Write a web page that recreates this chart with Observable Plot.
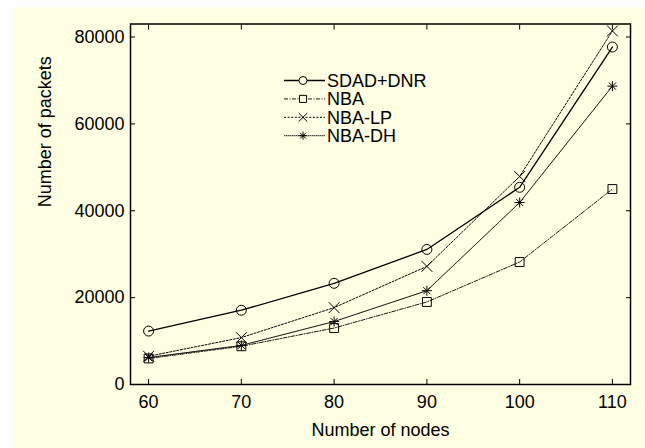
<!DOCTYPE html>
<html><head><meta charset="utf-8">
<script src="https://cdn.jsdelivr.net/npm/d3@7"></script>
<script src="https://cdn.jsdelivr.net/npm/@observablehq/plot@0.6"></script>
<style>
html,body{margin:0;padding:0;background:#fff;}
#wrap{position:relative;width:645px;height:448px;overflow:hidden;}
#panel{position:absolute;left:13px;top:7px;right:0;bottom:0;background:#FFFFE3;}
#chart{position:absolute;left:0;top:0;}
</style></head><body>
<div id="wrap"><div id="panel"></div><div id="chart"></div></div>
<script>
// ---- data ----
const nodes = [60, 70, 80, 90, 100, 110];
const seriesNames = ["SDAD+DNR", "NBA", "NBA-LP", "NBA-DH"];
const sdadDnr = [12300, 17100, 23300, 31100, 45400, 77700];
const nba     = [6000, 8800, 13000, 19000, 28200, 45000];
const nbaLp   = [6500, 10800, 17700, 27200, 47900, 81400];
const nbaDh   = [6200, 9000, 14500, 21600, 41900, 68700];
const xTicks = [60, 70, 80, 90, 100, 110];
const yTicks = [0, 20000, 40000, 60000, 80000];
const xLabel = "Number of nodes";
const yLabel = "Number of packets";

// ---- styles ----
const matlabAsterisk = {
  draw(ctx, size) {
    const r = Math.sqrt(size / Math.PI);
    const d = r * 0.7071;
    ctx.moveTo(-r, 0); ctx.lineTo(r, 0);
    ctx.moveTo(0, -r); ctx.lineTo(0, r);
    ctx.moveTo(-d, -d); ctx.lineTo(d, d);
    ctx.moveTo(-d, d); ctx.lineTo(d, -d);
  }
};
const styles = {
  "SDAD+DNR": {dash: null, width: 1.3, symbol: "circle", d3sym: d3.symbolCircle},
  "NBA":      {dash: "4,1.5,1,1.5", width: 0.9, symbol: "square", d3sym: d3.symbolSquare},
  "NBA-LP":   {dash: "2,1.6", width: 1, symbol: "times", d3sym: d3.symbolTimes},
  "NBA-DH":   {dash: "1.5,0.5", width: 0.9, symbol: matlabAsterisk, d3sym: matlabAsterisk}
};
const valuesBySeries = {"SDAD+DNR": sdadDnr, "NBA": nba, "NBA-LP": nbaLp, "NBA-DH": nbaDh};

const rows = seriesNames.flatMap(s => nodes.map((n, i) => ({series: s, x: n, y: valuesBySeries[s][i]})));

const font = "'Liberation Sans', Arial, sans-serif";
const marks = [];
for (const s of seriesNames) {
  const st = styles[s];
  const data = rows.filter(r => r.series === s);
  marks.push(Plot.line(data, {x: "x", y: "y", stroke: "black", strokeWidth: st.width, strokeDasharray: st.dash}));
  marks.push(Plot.dot(data, {x: "x", y: "y", symbol: st.symbol, r: 5, stroke: "black", fill: "none", strokeWidth: 1}));
}

const plot = Plot.plot({
  width: 645,
  height: 448,
  marginLeft: 130,
  marginRight: 15,
  marginTop: 23.5,
  marginBottom: 64,
  style: {background: "transparent", fontFamily: font, fontSize: "18px", color: "black"},
  x: {domain: [58.05, 111.95]},
  y: {domain: [0, 83000]},
  marks: [
    Plot.axisX({ticks: xTicks, tickSize: -5, tickPadding: 16, tickFormat: d => String(d), label: null, fontSize: 18}),
    Plot.axisX({anchor: "top", ticks: xTicks, tickSize: -5, tickFormat: () => "", label: null}),
    Plot.axisY({ticks: yTicks, tickSize: -5, tickPadding: 11, tickFormat: d => String(d), label: null, fontSize: 18}),
    Plot.axisY({anchor: "right", ticks: yTicks, tickSize: -5, tickFormat: () => "", label: null}),
    ...marks,
    Plot.frame({stroke: "black", strokeWidth: 1.5}),
    Plot.text([xLabel], {frameAnchor: "bottom", dy: 51, fontSize: 18, fill: "black"}),
    Plot.text([yLabel], {frameAnchor: "left", dx: -85, dy: 3, rotate: -90, fontSize: 18, fill: "black"})
  ]
});
document.getElementById("chart").appendChild(plot);

// ---- legend ----
const svg = d3.select(plot);
const lg = svg.append("g").attr("font-family", font).attr("font-size", 18).attr("text-anchor", "start");
seriesNames.forEach((s, i) => {
  const st = styles[s];
  const cy = 80.5 + i * 18.4;
  lg.append("line").attr("x1", 284).attr("x2", 325).attr("y1", cy).attr("y2", cy)
    .attr("stroke", "black").attr("stroke-width", st.width)
    .attr("stroke-dasharray", st.dash);
  lg.append("path").attr("transform", `translate(303,${cy})`)
    .attr("d", d3.symbol(st.d3sym, 16 * Math.PI)())
    .attr("fill", s === "NBA-DH" ? "none" : "#FFFFE3").attr("stroke", "black").attr("stroke-width", 1);
  lg.append("text").attr("x", 327).attr("y", cy).attr("dy", "0.35em").attr("text-anchor", "start").attr("fill", "black").text(s);
});
</script>
</body></html>
